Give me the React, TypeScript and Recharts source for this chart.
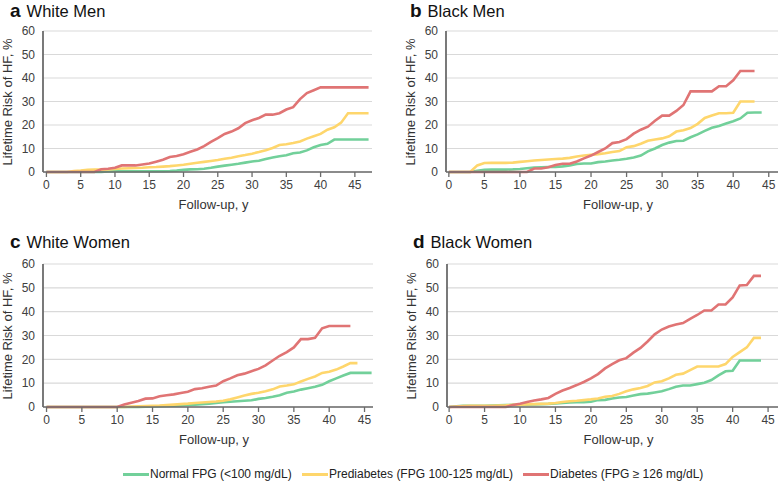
import { LineChart, Line, XAxis, YAxis, CartesianGrid } from 'recharts'

const GREEN = '#72d09a'
const YELLOW = '#fed66c'
const RED = '#e07474'
const FONT = '"Liberation Sans", Arial, sans-serif'

const Y_TICKS = [0, 10, 20, 30, 40, 50, 60]
const X_TICKS = [0, 5, 10, 15, 20, 25, 30, 35, 40, 45]

// a: White Men
const whiteMenNormal = [0, 0, 0, 0, 0, 0, 0, 0, 0, 0.2, 0.3, 0.3, 0.3, 0.3, 0.3, 0.3, 0.3, 0.3, 0.4, 0.6, 0.9, 1.1, 1.2, 1.4, 1.8, 2.3, 2.7, 3.1, 3.5, 4, 4.5, 4.8, 5.5, 6.2, 6.7, 7.1, 8, 8.3, 9.2, 10.5, 11.5, 12, 13.8, 13.8, 13.8, 13.8, 13.8, 13.8]
const whiteMenPre = [0, 0, 0, 0, 0.4, 0.6, 0.9, 1, 1, 1.1, 1.3, 1.5, 1.6, 1.7, 1.8, 2, 2.1, 2.3, 2.5, 2.8, 3.1, 3.5, 3.9, 4.3, 4.7, 5.1, 5.6, 6.1, 6.7, 7.2, 7.8, 8.5, 9.3, 10.2, 11.5, 11.8, 12.3, 13, 14.2, 15.2, 16.2, 18, 19, 21, 25, 25, 25, 25]
const whiteMenDiab = [0, 0, 0, 0, 0, 0, 0, 0, 1.2, 1.4, 1.8, 2.8, 2.8, 2.8, 3.2, 3.6, 4.4, 5.2, 6.4, 6.8, 7.6, 8.6, 9.6, 11, 12.8, 14.4, 16.2, 17.2, 18.6, 20.8, 22, 23, 24.4, 24.4, 25, 26.6, 27.6, 31, 33.6, 34.8, 36, 36, 36, 36, 36, 36, 36, 36]

// b: Black Men
const blackMenNormal = [0, 0, 0, 0, 0.5, 0.9, 1, 1, 1, 1.1, 1.3, 1.6, 1.9, 2, 2.1, 2.2, 2.4, 2.8, 3.4, 3.6, 3.6, 4.2, 4.5, 4.9, 5.2, 5.6, 6.2, 7, 8.8, 10, 11.5, 12.5, 13.2, 13.3, 14.8, 16, 17.5, 18.8, 19.6, 20.6, 21.6, 22.8, 25.2, 25.3, 25.3]
const blackMenPre = [0, 0, 0, 0, 2.8, 3.8, 3.9, 3.9, 3.9, 4, 4.3, 4.6, 4.9, 5.1, 5.3, 5.5, 5.7, 6, 6.6, 7, 7.3, 7.6, 8, 8.5, 8.9, 10.5, 11, 12, 13.3, 13.8, 14.3, 15.2, 17.2, 17.8, 18.7, 20.5, 23, 24, 25, 25, 25.2, 30, 30, 30]
const blackMenDiab = [0, 0, 0, 0, 0, 0, 0, 0, 0, 0, 0, 0, 1.5, 1.5, 2, 3, 3.5, 3.5, 4.5, 5.8, 7, 8.5, 10, 12.3, 12.8, 14, 16.3, 18, 19.3, 21.8, 24, 24, 26, 28.5, 34.3, 34.3, 34.3, 34.3, 36.5, 36.5, 39, 43, 43, 43]

// c: White Women
const whiteWomenNormal = [0, 0, 0, 0, 0, 0, 0, 0, 0, 0, 0, 0, 0, 0, 0.1, 0.2, 0.3, 0.4, 0.5, 0.7, 0.9, 1, 1.2, 1.4, 1.7, 2, 2.2, 2.4, 2.6, 2.8, 3.4, 3.8, 4.3, 4.9, 6, 6.5, 7.3, 7.9, 8.5, 9.3, 10.8, 12, 13.2, 14.3, 14.3, 14.3, 14.3]
const whiteWomenPre = [0, 0, 0, 0, 0, 0, 0, 0, 0, 0, 0, 0, 0.2, 0.3, 0.4, 0.5, 0.6, 0.8, 1, 1.2, 1.4, 1.7, 1.9, 2.1, 2.3, 2.6, 3.2, 4, 4.8, 5.5, 6, 6.6, 7.4, 8.6, 9, 9.5, 10.7, 11.8, 12.8, 14.3, 14.8, 15.7, 17, 18.4, 18.4]
const whiteWomenDiab = [0, 0, 0, 0, 0, 0, 0, 0, 0, 0, 0, 1, 1.8, 2.5, 3.5, 3.6, 4.5, 4.9, 5.3, 5.9, 6.4, 7.5, 7.9, 8.5, 9, 10.8, 12, 13.3, 14, 15, 16, 17.5, 19.5, 21.5, 23, 25, 28.5, 28.5, 29, 33, 34, 34, 34, 34]

// d: Black Women
const blackWomenNormal = [0, 0.3, 0.5, 0.5, 0.5, 0.5, 0.6, 0.7, 0.8, 0.9, 0.9, 1, 1.1, 1.2, 1.3, 1.5, 1.7, 1.9, 2, 2, 2.2, 2.9, 3, 3.6, 4, 4.2, 4.8, 5.4, 5.6, 6.1, 6.6, 7.5, 8.5, 9, 9, 9.6, 10.2, 11.3, 13.3, 15, 15.2, 19.5, 19.5, 19.5, 19.5]
const blackWomenPre = [0, 0.2, 0.4, 0.5, 0.5, 0.5, 0.5, 0.6, 0.7, 0.9, 1, 1.1, 1.2, 1.3, 1.4, 1.7, 2.1, 2.4, 2.6, 2.9, 3.2, 3.6, 4.3, 4.6, 5.5, 6.6, 7.4, 8, 8.8, 10.3, 10.8, 12, 13.5, 14, 15.5, 17, 17, 17, 17, 18, 21, 23, 25, 29, 29]
const blackWomenDiab = [0, 0, 0, 0, 0, 0, 0, 0, 0, 0.8, 1.4, 2.1, 2.7, 3.2, 3.8, 5.5, 6.9, 8, 9.2, 10.5, 12, 13.8, 16.2, 18, 19.6, 20.5, 22.8, 24.8, 27.5, 30.5, 32.5, 33.8, 34.6, 35.2, 37, 38.6, 40.5, 40.5, 43, 43, 46, 51, 51.2, 55, 55]

function buildRows(normal: number[], pre: number[], diab: number[]) {
  const n = Math.max(normal.length, pre.length, diab.length)
  const rows = []
  for (let i = 0; i < n; i++) {
    rows.push({ x: i, normal: normal[i], pre: pre[i], diab: diab[i] })
  }
  return rows
}

interface PanelProps {
  letter: string
  title: string
  normal: number[]
  pre: number[]
  diab: number[]
  plotLeft: number
  plotRight: number
  plotTop: number
  plotBottom: number
  xDomain: [number, number]
  titleX: number
  titleY: number
}

const AXIS_W = 40
const TOP_PAD = 10
const X_AXIS_H = 30

function Panel(p: PanelProps) {
  const rows = buildRows(p.normal, p.pre, p.diab)
  const left = p.plotLeft - AXIS_W
  const width = p.plotRight - left
  const height = TOP_PAD + (p.plotBottom - p.plotTop) + X_AXIS_H
  const tick = { fill: '#404040', fontSize: 12, fontFamily: FONT }
  return (
    <>
      <div style={{ position: 'absolute', left: p.titleX, top: p.titleY, lineHeight: '20px', whiteSpace: 'nowrap', fontFamily: FONT, color: '#111' }}>
        <span style={{ fontWeight: 'bold', fontSize: 19, marginRight: 6 }}>{p.letter}</span>
        <span style={{ fontSize: 16.5 }}>{p.title}</span>
      </div>
      <div
        style={{
          position: 'absolute',
          left: p.plotLeft - 36,
          top: (p.plotTop + p.plotBottom) / 2,
          transform: 'translate(-50%, -50%) rotate(-90deg)',
          whiteSpace: 'nowrap',
          fontFamily: FONT,
          fontSize: 13,
          color: '#333',
        }}
      >
        Lifetime Risk of HF, %
      </div>
      <div
        style={{
          position: 'absolute',
          left: (p.plotLeft + p.plotRight) / 2 + 6,
          top: p.plotBottom + 32,
          transform: 'translate(-50%, -50%)',
          whiteSpace: 'nowrap',
          fontFamily: FONT,
          fontSize: 13,
          color: '#333',
        }}
      >
        Follow-up, y
      </div>
      <div style={{ position: 'absolute', left, top: p.plotTop - TOP_PAD }}>
        <LineChart width={width} height={height} data={rows} margin={{ top: TOP_PAD, right: 0, bottom: 0, left: 0 }}>
          <CartesianGrid vertical={false} stroke="#d9d9d9" strokeWidth={1.2} />
          <XAxis
            dataKey="x"
            type="number"
            domain={p.xDomain}
            allowDataOverflow
            ticks={X_TICKS}
            interval={0}
            height={X_AXIS_H}
            tick={tick}
            tickSize={5}
            tickMargin={3}
            stroke="#6b6b6b"
            strokeWidth={1.3}
          />
          <YAxis
            type="number"
            domain={[0, 60]}
            ticks={Y_TICKS}
            interval={0}
            width={AXIS_W}
            tick={tick}
            tickLine={false}
            tickSize={4}
            tickMargin={4}
            stroke="#6b6b6b"
            strokeWidth={1.8}
          />
          <Line dataKey="normal" stroke={GREEN} strokeWidth={2.6} dot={false} type="linear" isAnimationActive={false} />
          <Line dataKey="pre" stroke={YELLOW} strokeWidth={2.6} dot={false} type="linear" isAnimationActive={false} />
          <Line dataKey="diab" stroke={RED} strokeWidth={2.6} dot={false} type="linear" isAnimationActive={false} />
        </LineChart>
      </div>
    </>
  )
}

const LEGEND = [
  { label: 'Normal FPG (<100 mg/dL)', color: GREEN, x: 123 },
  { label: 'Prediabetes (FPG 100-125 mg/dL)', color: YELLOW, x: 302 },
  { label: 'Diabetes (FPG \u2265 126 mg/dL)', color: RED, x: 523 },
]

export default function App() {
  return (
    <div style={{ position: 'absolute', left: 0, top: 0, width: 778, height: 483, overflow: 'hidden', background: '#fff' }}>
      <Panel
        letter="a"
        title="White Men"
        normal={whiteMenNormal}
        pre={whiteMenPre}
        diab={whiteMenDiab}
        plotLeft={43}
        plotRight={372}
        plotTop={31}
        plotBottom={172}
        xDomain={[-0.5, 47.5]}
        titleX={10}
        titleY={1}
      />
      <Panel
        letter="b"
        title="Black Men"
        normal={blackMenNormal}
        pre={blackMenPre}
        diab={blackMenDiab}
        plotLeft={446}
        plotRight={778}
        plotTop={31}
        plotBottom={172}
        xDomain={[-0.4, 46.3]}
        titleX={410}
        titleY={1}
      />
      <Panel
        letter="c"
        title="White Women"
        normal={whiteWomenNormal}
        pre={whiteWomenPre}
        diab={whiteWomenDiab}
        plotLeft={43}
        plotRight={373}
        plotTop={264}
        plotBottom={407}
        xDomain={[-0.5, 46.2]}
        titleX={10}
        titleY={232}
      />
      <Panel
        letter="d"
        title="Black Women"
        normal={blackWomenNormal}
        pre={blackWomenPre}
        diab={blackWomenDiab}
        plotLeft={447}
        plotRight={778}
        plotTop={264}
        plotBottom={407}
        xDomain={[-0.3, 46.4]}
        titleX={413}
        titleY={232}
      />
      {LEGEND.map((l) => (
        <div key={l.label} style={{ position: 'absolute', left: l.x, top: 467, display: 'flex', alignItems: 'center', whiteSpace: 'nowrap', fontFamily: FONT, fontSize: 12, color: '#222' }}>
          <span style={{ display: 'inline-block', width: 26, height: 3, background: l.color, marginRight: 1 }} />
          <span>{l.label}</span>
        </div>
      ))}
    </div>
  )
}
